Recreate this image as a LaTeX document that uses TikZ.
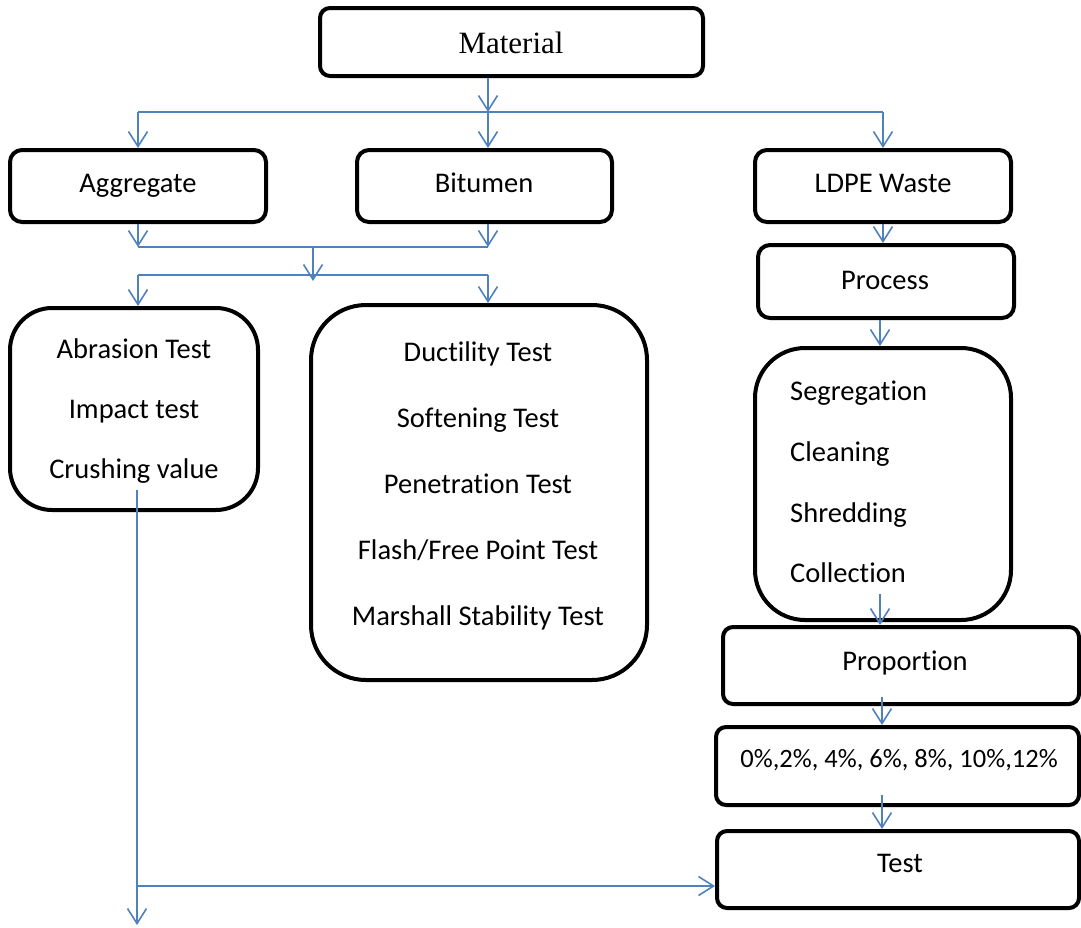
\documentclass[tikz,border=0pt]{standalone}
\usepackage{fontspec}
\setmainfont{Carlito}[RawFeature=-liga]
\newfontfamily\seriffont{Liberation Serif}
\usetikzlibrary{arrows.meta}
\definecolor{lineblue}{HTML}{4F81BD}
\tikzset{
  box/.style={draw=black, line width=4pt, inner sep=0pt},
  conn/.style={draw=lineblue, line width=1.6pt},
  arr/.style={conn, -{Straight Barb[length=15pt,width=19pt,line width=1.6pt]}},
  lbl/.style={inner sep=0pt, text height=18pt, text depth=0pt, font=\fontsize{28.5}{32}\selectfont},
  llbl/.style={lbl, anchor=west}
}
\begin{document}
\begin{tikzpicture}[x=1pt,y=-1pt]
\useasboundingbox (0,0) rectangle (1081,927);
% boxes
\node[box, rounded corners=10pt, minimum width=383pt, minimum height=68pt] (mat) at (511.5,42) {};
\node[box, rounded corners=12pt, minimum width=256pt, minimum height=72pt] (agg) at (138,186) {};
\node[box, rounded corners=12pt, minimum width=255pt, minimum height=72pt] (bit) at (484.5,186) {};
\node[box, rounded corners=12pt, minimum width=256pt, minimum height=72pt] (ldpe) at (883,186) {};
\node[box, rounded corners=12pt, minimum width=256pt, minimum height=73pt] (proc) at (886,281.5) {};
\node[box, rounded corners=42pt, minimum width=248pt, minimum height=202pt] (abr) at (134,409) {};
\node[box, rounded corners=55pt, minimum width=336pt, minimum height=375pt] (duc) at (479,492.5) {};
\node[box, rounded corners=50pt, minimum width=256pt, minimum height=272pt] (seg) at (883,484) {};
\node[box, rounded corners=10pt, minimum width=356pt, minimum height=77pt] (prop) at (901,665.5) {};
\node[box, rounded corners=10pt, minimum width=363pt, minimum height=78pt] (pct) at (897.5,766) {};
\node[box, rounded corners=10pt, minimum width=362pt, minimum height=77pt] (test) at (898,869.5) {};
% texts
\node[lbl, text height=20pt, font=\seriffont\fontsize{31}{34}\selectfont] (tmat) at (511,43) {Material};
\node[lbl] (tagg) at (138,183) {Aggregate};
\node[lbl] (tbit) at (484,183) {Bitumen};
\node[lbl] (tldpe) at (883,183) {LDPE Waste};
\node[lbl] (tproc) at (885,280) {Process};
\node[lbl] (a1) at (134,349) {Abrasion Test};
\node[lbl] (a2) at (134,409) {Impact test};
\node[lbl] (a3) at (134,469) {Crushing value};
\node[lbl] (d1) at (478,352) {Ductility Test};
\node[lbl] (d2) at (478,418) {Softening Test};
\node[lbl] (d3) at (478,484) {Penetration Test};
\node[lbl] (d4) at (478,550) {Flash/Free Point Test};
\node[lbl] (d5) at (478,616) {Marshall Stability Test};
\node[llbl] (s1) at (790,391) {Segregation};
\node[llbl] (s2) at (790,452) {Cleaning};
\node[llbl] (s3) at (790,513) {Shredding};
\node[llbl] (s4) at (790,573) {Collection};
\node[lbl] (tprop) at (905,661) {Proportion};
\node[lbl, text height=17pt, font=\fontsize{26.5}{30}\selectfont] (tpct) at (899,759) {0\%,2\%, 4\%, 6\%, 8\%, 10\%,12\%};
\node[lbl] (ttest) at (900,863) {Test};
% junction coordinates
\coordinate (j1) at (488,112);
\coordinate (j2) at (313,247);
\coordinate (j3) at (313,281);
\coordinate (j4) at (313,275);
\coordinate (c1) at (880,594);
\coordinate (c2) at (882,697);
\coordinate (c3) at (882,795);
\coordinate (c4) at (137,490);
\coordinate (c5) at (137,925);
\coordinate (t1) at (137,886);
% connectors
\draw[arr] (mat.south -| j1) -- (j1);
\draw[conn] (agg.north |- j1) -- (ldpe.north |- j1);
\draw[arr] (agg.north |- j1) -- (agg.north);
\draw[arr] (j1) -- (j1 |- bit.north);
\draw[arr] (ldpe.north |- j1) -- (ldpe.north);
\draw[arr] (agg.south) -- (agg.south |- j2);
\draw[arr] (j1 |- bit.south) -- (j1 |- j2);
\draw[conn] (agg.south |- j2) -- (j1 |- j2);
\draw[arr] (j2) -- (j3);
\draw[conn] (agg.south |- j4) -- (j1 |- j4);
\draw[arr] (agg.south |- j4) -- (agg.south |- abr.north);
\draw[arr] (j1 |- j4) -- (j1 |- duc.north);
\draw[arr] (ldpe.south) -- (ldpe.south |- proc.north);
\draw[arr] (c1 |- proc.south) -- (c1 |- seg.north);
\draw[arr] (c1) -- (c1 |- prop.north);
\draw[arr] (c2) -- (c2 |- pct.north);
\draw[arr] (c3) -- (c3 |- test.north);
\draw[arr] (c4) -- (c5);
\draw[arr] (t1) -- (t1 -| test.west);
\end{tikzpicture}
\end{document}
